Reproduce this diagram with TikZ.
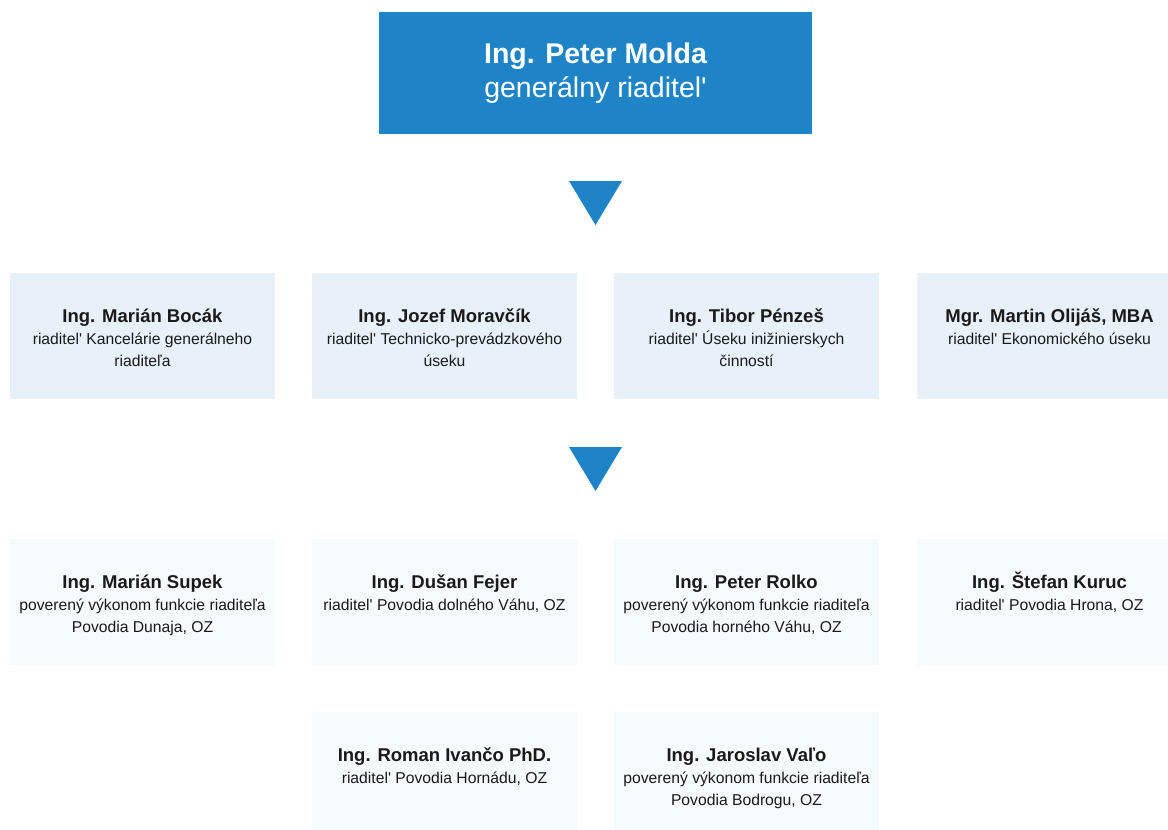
\documentclass[tikz,border=0pt]{standalone}
\usepackage{fontspec}
\setmainfont{Liberation Sans}
\usetikzlibrary{positioning}

\definecolor{molblue}{RGB}{31,132,199}
\definecolor{rowone}{RGB}{232,241,249}
\definecolor{rowtwo}{RGB}{245,250,251}
\definecolor{ink}{RGB}{26,26,26}

\newcommand{\rdl}{riaditel\textquotesingle}
\newcommand{\nm}[1]{\rule{0pt}{18pt}{\bfseries\fontsize{18.5}{22}\selectfont #1}}

\tikzset{
  topbox/.style={fill=molblue, text=white, minimum width=433pt, minimum height=122pt,
    align=center, font=\fontsize{28.5}{34}\selectfont},
  unitbox/.style={minimum width=265pt, minimum height=126pt, inner sep=0pt},
  deptbox/.style={unitbox, fill=rowone},
  basinbox/.style={unitbox, fill=rowtwo},
  boxtext/.style={align=center, inner sep=0pt, text=ink, font=\fontsize{15.7}{22}\selectfont},
  tri/.style={fill=molblue}
}

\begin{document}
\begin{tikzpicture}[x=1pt,y=-1pt]
\useasboundingbox (0,0) rectangle (1168,830);
\fill[white] (0,0) rectangle (1168,830);
\clip (0,0) rectangle (1168,830);

% generalny riaditel
\node[topbox] (ceo) at (595.5,73) {{\bfseries Ing. Peter Molda}\\ generálny \rdl};
\fill[tri] (569,181) -- (622,181) -- (595.5,225) -- cycle;

% useky
\node[deptbox] (d1) at (142.5,336) {};
\node[deptbox] (d2) at (444.5,336) {};
\node[deptbox] (d3) at (746.5,336) {};
\node[deptbox] (d4) at (1049.5,336) {};
\node[boxtext, below=31.6pt of d1.north] (td1) {\nm{Ing. Marián Bocák}\\ \rdl{} Kancelárie generálneho\\ riaditeľa};
\node[boxtext, below=31.6pt of d2.north] (td2) {\nm{Ing. Jozef Moravčík}\\ \rdl{} Technicko-prevádzkového\\ úseku};
\node[boxtext, below=31.6pt of d3.north] (td3) {\nm{Ing. Tibor Pénzeš}\\ \rdl{} Úseku inižinierskych\\ činností};
\node[boxtext, below=31.6pt of d4.north] (td4) {\nm{Mgr. Martin Olijáš, MBA}\\ \rdl{} Ekonomického úseku};

\fill[tri] (569,447) -- (622,447) -- (595.5,491) -- cycle;

% povodia
\node[basinbox] (p1) at (142.5,602) {};
\node[basinbox] (p2) at (444.5,602) {};
\node[basinbox] (p3) at (746.5,602) {};
\node[basinbox] (p4) at (1049.5,602) {};
\node[basinbox] (p5) at (444.5,775) {};
\node[basinbox] (p6) at (746.5,775) {};
\node[boxtext, below=31.6pt of p1.north] (tp1) {\nm{Ing. Marián Supek}\\ poverený výkonom funkcie riaditeľa\\ Povodia Dunaja, OZ};
\node[boxtext, below=31.6pt of p2.north] (tp2) {\nm{Ing. Dušan Fejer}\\ \rdl{} Povodia dolného Váhu, OZ};
\node[boxtext, below=31.6pt of p3.north] (tp3) {\nm{Ing. Peter Rolko}\\ poverený výkonom funkcie riaditeľa\\ Povodia horného Váhu, OZ};
\node[boxtext, below=31.6pt of p4.north] (tp4) {\nm{Ing. Štefan Kuruc}\\ \rdl{} Povodia Hrona, OZ};
\node[boxtext, below=31.6pt of p5.north] (tp5) {\nm{Ing. Roman Ivančo PhD.}\\ \rdl{} Povodia Hornádu, OZ};
\node[boxtext, below=31.6pt of p6.north] (tp6) {\nm{Ing. Jaroslav Vaľo}\\ poverený výkonom funkcie riaditeľa\\ Povodia Bodrogu, OZ};
\end{tikzpicture}
\end{document}
